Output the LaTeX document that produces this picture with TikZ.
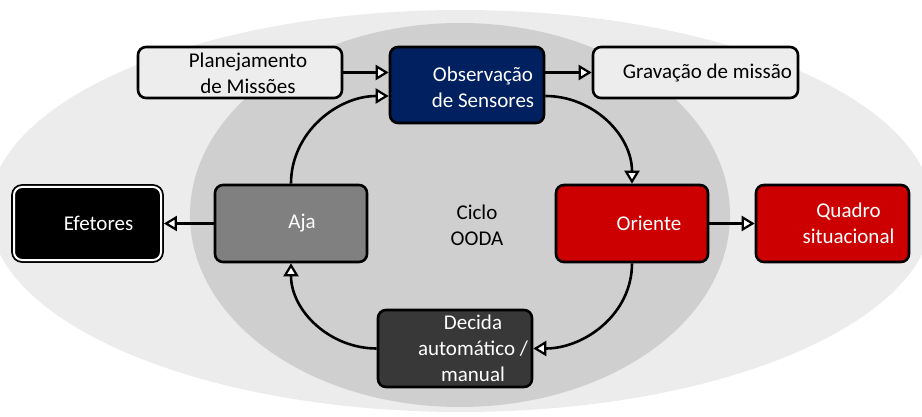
\documentclass[tikz,border=0pt]{standalone}
\usepackage{fontspec}
\setmainfont{Carlito}
\usetikzlibrary{arrows.meta}
\definecolor{outerg}{RGB}{236,236,236}
\definecolor{innerg}{RGB}{207,207,207}
\definecolor{lightbox}{RGB}{237,237,237}
\definecolor{navybox}{RGB}{0,32,96}
\definecolor{redbox}{RGB}{204,0,0}
\definecolor{ajabox}{RGB}{128,128,128}
\definecolor{decbox}{RGB}{56,56,56}
\begin{document}
\begin{tikzpicture}[x=1pt,y=-1pt,
  box/.style={draw=black, line width=2.6pt, rounded corners=8pt, inner sep=0pt},
  txt/.style={font=\fontsize{21}{26}\selectfont, align=center, inner sep=0pt},
  wtxt/.style={txt, text=white},
  arr/.style={line width=2.6pt, -{Triangle[fill=white,length=13pt,width=15pt,line width=2.2pt]}}]
\useasboundingbox (0,0) rectangle (922,417);
\begin{scope}
\clip (0,0) rectangle (922,417);
\fill[outerg] (461,211) ellipse [x radius=472, y radius=201];
\fill[innerg] (460,215) ellipse [x radius=270, y radius=192];
\end{scope}
% boxes
\node[box, fill=lightbox, minimum width=204pt, minimum height=51pt] (plan) at (240,72.5) {};
\node[box, fill=navybox, minimum width=154pt, minimum height=76pt] (obs) at (467,85) {};
\node[box, fill=lightbox, minimum width=205pt, minimum height=51pt] (grav) at (695.5,72.5) {};
\node[box, fill=black, line width=1.8pt, double=white, double distance=2pt, minimum width=147pt, minimum height=73pt] (efe) at (87.5,223.5) {};
\node[box, fill=ajabox, minimum width=152pt, minimum height=77pt] (aja) at (291,223.5) {};
\node[box, fill=redbox, minimum width=152pt, minimum height=77pt] (ori) at (632,223.5) {};
\node[box, fill=redbox, minimum width=153pt, minimum height=77pt] (qua) at (832.5,223.5) {};
\node[box, fill=decbox, minimum width=154pt, minimum height=77pt] (dec) at (455,348.5) {};
% texts
\node[txt] (plant) at ([xshift=8pt,yshift=-1pt]plan.center) {Planejamento\\de Missões};
\node[wtxt] (obst) at ([xshift=16pt,yshift=-2pt]obs.center) {Observação\\de Sensores};
\node[txt] (gravt) at ([xshift=12pt]grav.center) {Gravação de missão};
\node[wtxt] (efet) at ([xshift=11pt]efe.center) {Efetores};
\node[wtxt] (ajat) at ([xshift=11pt]aja.center) {Aja};
\node[wtxt] (orit) at ([xshift=17pt]ori.center) {Oriente};
\node[wtxt] (quat) at ([xshift=16pt]qua.center) {Quadro\\situacional};
\node[wtxt] (dect) at ([xshift=18pt]dec.center) {Decida\\automático /\\manual};
\node[txt] (ciclo) at (477,225) {Ciclo\\OODA};
% connectors
\draw[arr] (plan.east) -- (plan.east -| obs.west);
\draw[arr] (obs.east |- grav.west) -- (grav.west);
\draw[arr] (aja.north) to[out=90,in=180] ([yshift=-11pt]obs.west);
\draw[arr] ([yshift=-11pt]obs.east) to[out=0,in=90] (ori.north);
\draw[arr] (ori.east) -- (qua.west);
\draw[arr] (ori.south) to[out=-90,in=0] (dec.east);
\draw[arr] (dec.west) to[out=180,in=-90] (aja.south);
\draw[arr] (aja.west) -- ([xshift=2pt]efe.east);
\end{tikzpicture}
\end{document}
